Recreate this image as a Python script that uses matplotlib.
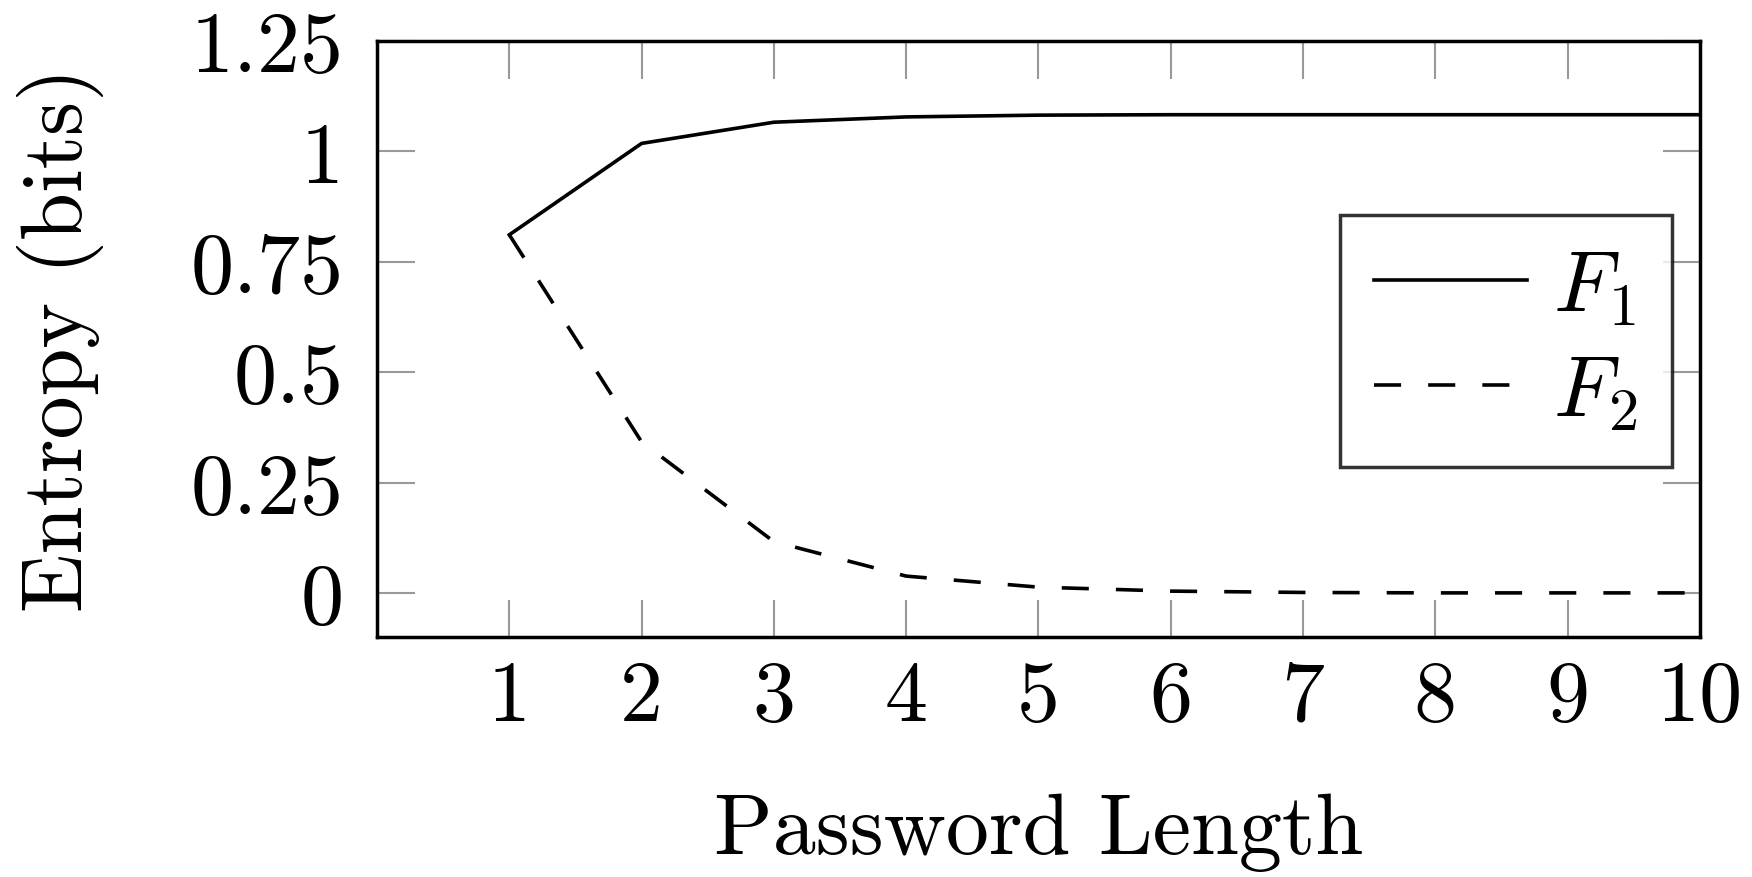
import matplotlib
matplotlib.use("Agg")
import matplotlib.pyplot as plt

plt.rcParams['font.family'] = 'serif'
plt.rcParams['font.serif'] = ['cmr10']
plt.rcParams['mathtext.fontset'] = 'cm'
plt.rcParams['axes.formatter.use_mathtext'] = True

lengths = [1, 2, 3, 4, 5, 6, 7, 8, 9, 10]
f1 = [0.811, 1.018, 1.066, 1.078, 1.082, 1.083, 1.083, 1.083, 1.083, 1.083]
f2 = [0.811, 0.342, 0.116, 0.038, 0.013, 0.004, 0.001, 0.0, 0.0, 0.0]
yticks = [0, 0.25, 0.5, 0.75, 1, 1.25]
ytick_labels = ['0', '0.25', '0.5', '0.75', '1', '1.25']

fig = plt.figure(figsize=(17.52, 8.78), dpi=100)
ax = fig.add_axes([0.2152, 0.2733, 0.9703 - 0.2152, 0.9522 - 0.2733])

ax.plot(lengths, f1, color='black', lw=2.6, label='$F_1$')
l2, = ax.plot(lengths, f2, color='black', lw=2.6, label='$F_2$')
l2.set_dashes([7.5, 7.5])

ax.set_xlim(0, 10)
ax.set_ylim(-0.1, 1.25)
ax.set_xticks(lengths)
ax.set_xticklabels([str(v) for v in lengths])
ax.set_yticks(yticks)
ax.set_yticklabels(ytick_labels)

ax.tick_params(direction='in', length=27, width=1.5, color='#999999',
               top=True, right=True, labelsize=62)
ax.tick_params(axis='x', pad=16)
ax.tick_params(axis='y', pad=24)
for s in ax.spines.values():
    s.set_linewidth(2.5)

ax.set_xlabel('Password Length', fontsize=62, labelpad=40)
ax.set_ylabel('Entropy (bits)', fontsize=62, labelpad=62)

leg = ax.legend(loc='upper right', bbox_to_anchor=(0.979, 0.708), fontsize=62,
                frameon=True, fancybox=False, edgecolor='black',
                handlelength=1.78, handletextpad=0.3, borderpad=0.4,
                labelspacing=0.32, borderaxespad=0)
leg.get_frame().set_linewidth(2.5)

fig.savefig('out.png', dpi=100)
